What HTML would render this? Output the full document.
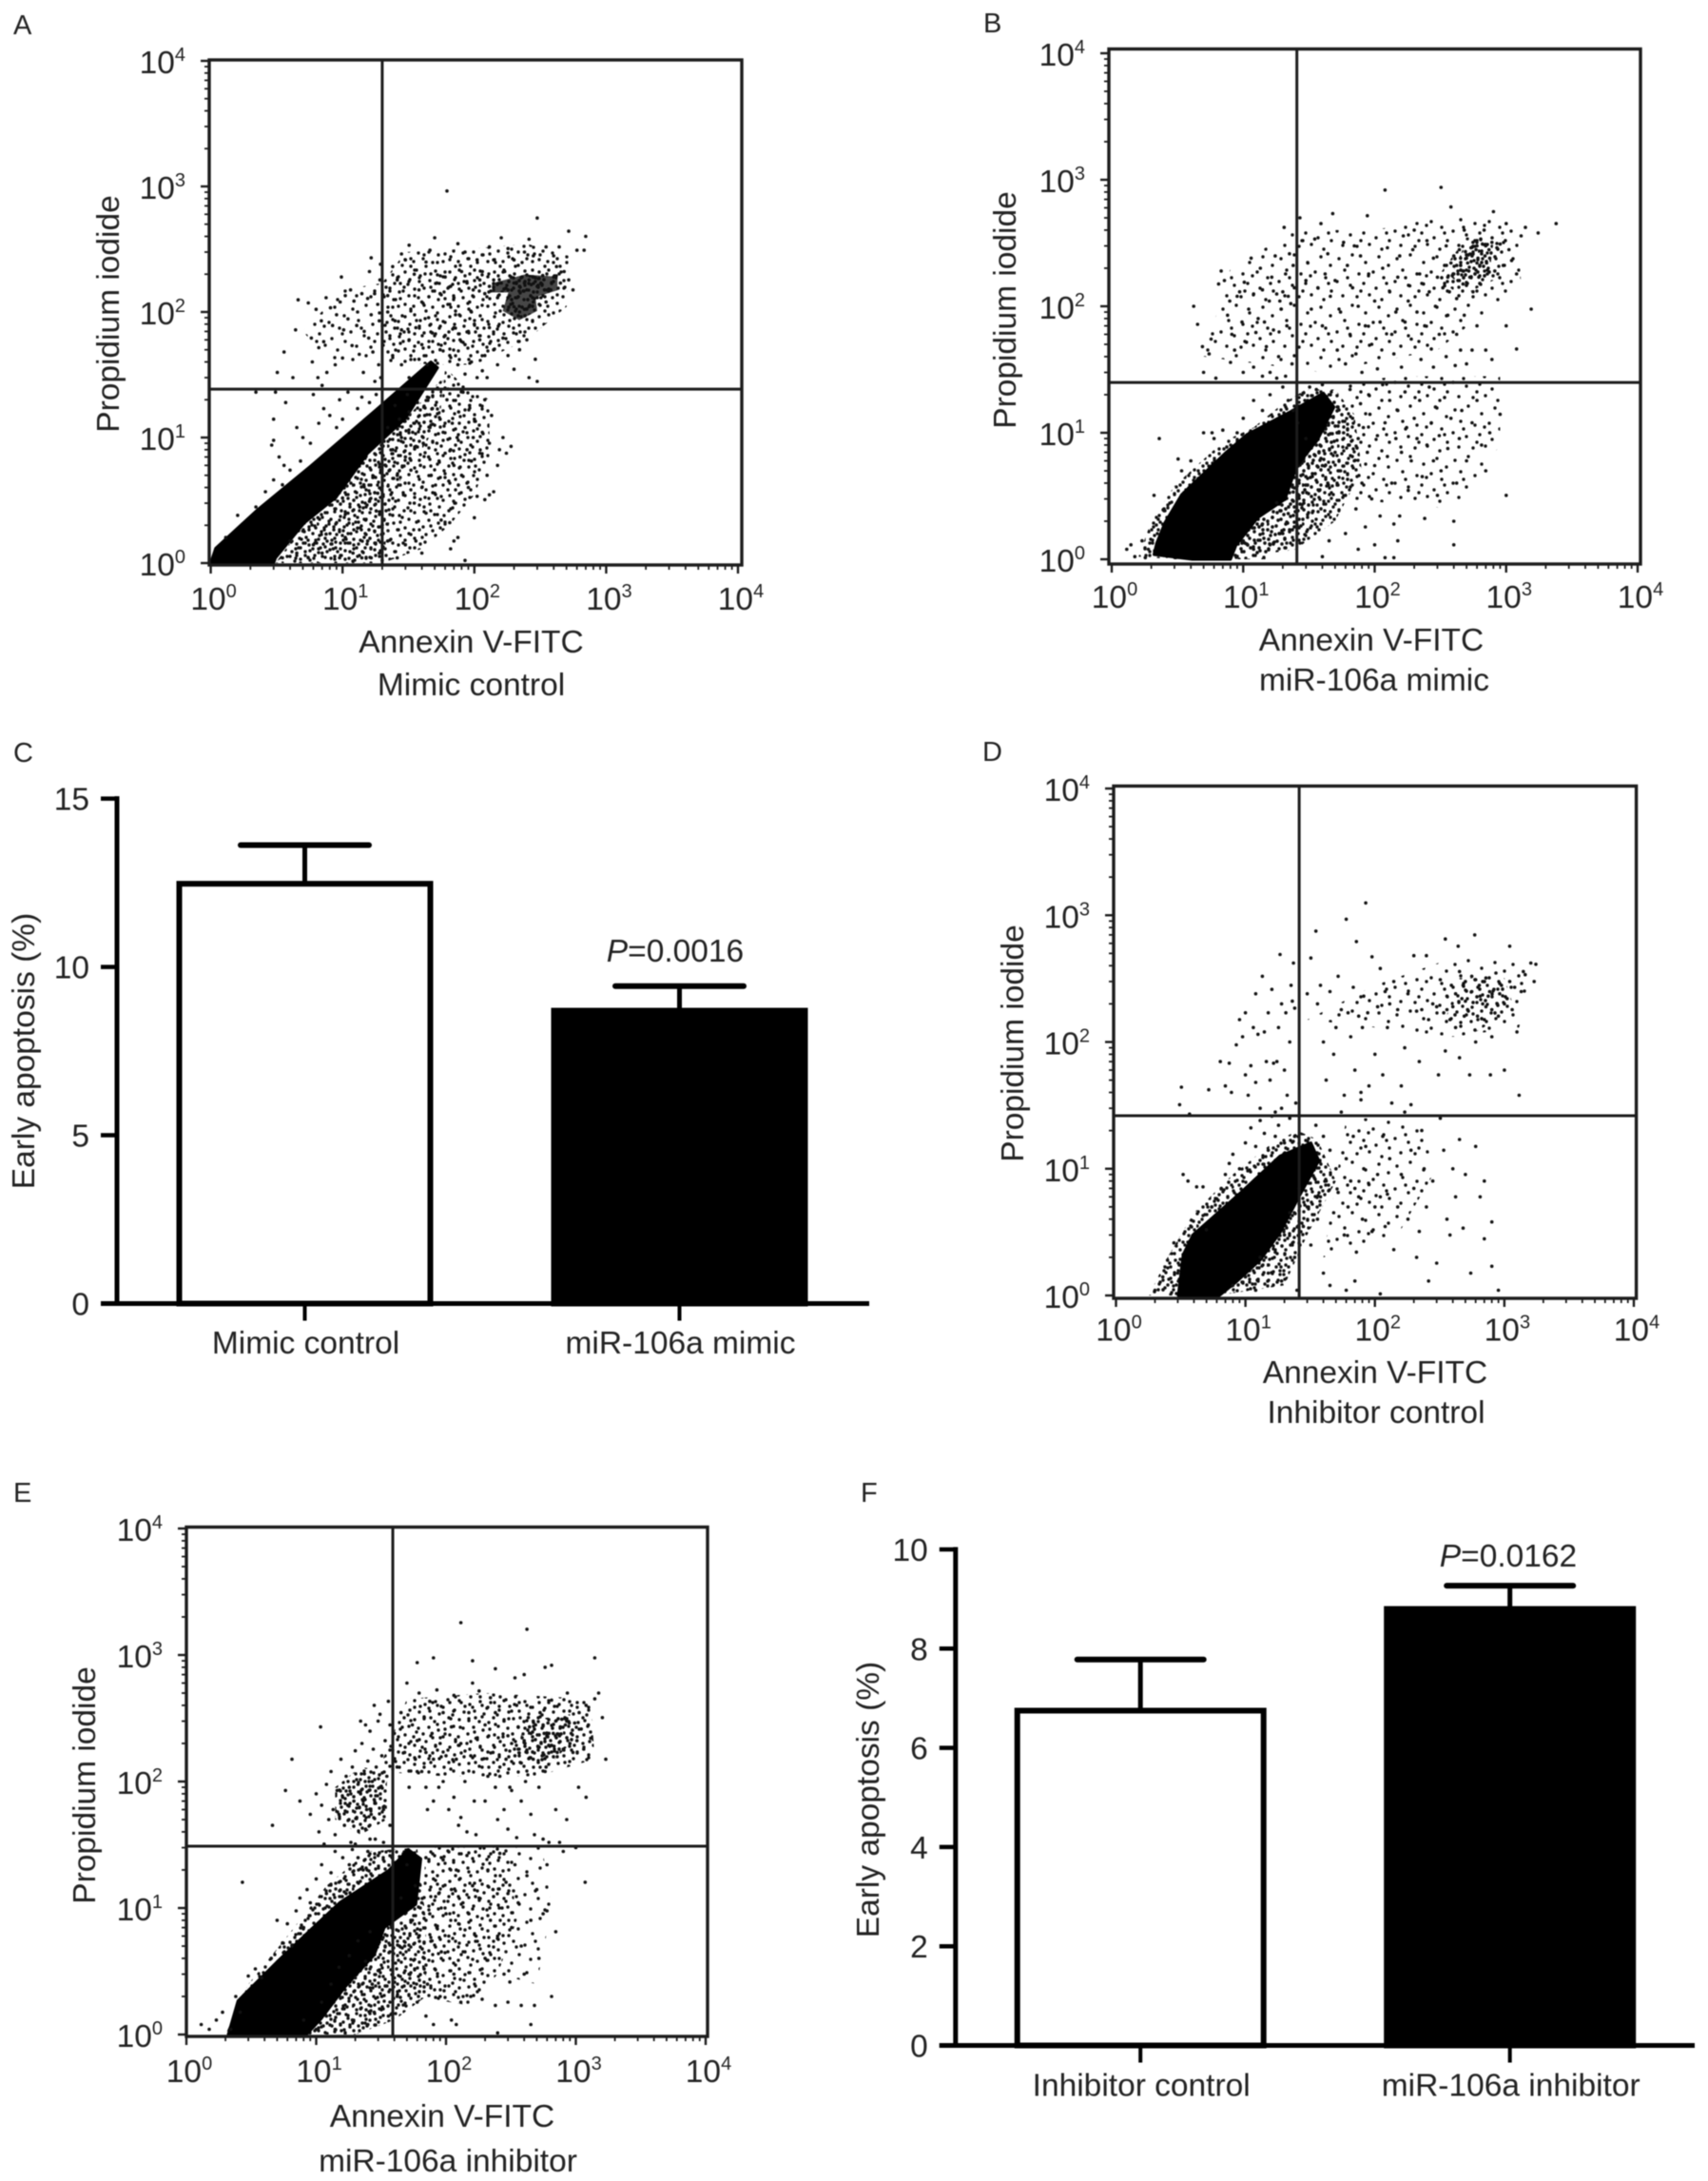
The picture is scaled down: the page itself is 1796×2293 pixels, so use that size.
<!DOCTYPE html>
<html lang="en">
<head>
<meta charset="utf-8">
<title>Annexin V / PI flow cytometry and early apoptosis</title>
<style>
html,body{margin:0;padding:0;background:#fff;}
#figure{display:block;width:1796px;height:2293px;filter:blur(0.6px);}
text{font-family:"Liberation Sans",sans-serif;font-size:33.5px;fill:#222;}
.letter{font-size:29px;}
</style>
</head>
<body>
<svg id="figure" xmlns="http://www.w3.org/2000/svg" width="1796" height="2293" viewBox="0 0 1796 2293">
<defs>
<pattern id="stippleSparse" width="61" height="53" patternUnits="userSpaceOnUse"><path fill="none" stroke="#111" stroke-width="3.4" stroke-linecap="round" d="M5 7h0M19 3h0M33 11h0M47 5h0M57 14h0M11 19h0M26 23h0M41 21h0M52 27h0M3 31h0M17 35h0M31 33h0M44 38h0M58 41h0M9 46h0M24 47h0M37 45h0M50 50h0M14 27h0M36 25h0M28 41h0M55 33h0"/></pattern>
<pattern id="stippleMedium" width="47" height="47" patternUnits="userSpaceOnUse"><path fill="none" stroke="#111" stroke-width="3.4" stroke-linecap="round" d="M3 4h0M13 2h0M24 6h0M35 3h0M43 9h0M8 12h0M18 14h0M29 13h0M39 16h0M2 20h0M13 22h0M23 21h0M34 24h0M44 25h0M7 29h0M17 31h0M28 30h0M38 33h0M3 38h0M12 40h0M22 37h0M32 41h0M43 40h0M25 45h0M9 45h0M37 7h0M19 8h0M45 32h0M30 20h0M6 17h0"/></pattern>
<pattern id="stippleDense" width="37" height="41" patternUnits="userSpaceOnUse"><path fill="none" stroke="#111" stroke-width="3.4" stroke-linecap="round" d="M2 3h0M11 6h0M20 2h0M30 5h0M6 11h0M15 13h0M25 10h0M34 13h0M1 18h0M10 20h0M20 18h0M29 21h0M5 26h0M14 28h0M24 26h0M33 28h0M2 34h0M11 36h0M19 33h0M28 35h0M35 38h0M16 39h0M7 39h0M25 38h0M32 19h0M18 24h0"/></pattern>
</defs>
<rect width="1796" height="2293" fill="#fff"/>

<text class="letter" x="14" y="36">A</text>
<text class="letter" x="1034" y="34">B</text>
<text class="letter" x="14" y="801">C</text>
<text class="letter" x="1033" y="800">D</text>
<text class="letter" x="14" y="1579">E</text>
<text class="letter" x="905" y="1579">F</text>

<g id="panelA"></g>
<g id="panelB"></g>
<g id="panelC"></g>
<g id="panelD"></g>
<g id="panelE"></g>
<g id="panelF"></g>

<text x="125" y="330" text-anchor="middle" transform="rotate(-90 125 330)">Propidium iodide</text>
<text x="495.5" y="686" text-anchor="middle">Annexin V-FITC</text>
<text x="495.5" y="731" text-anchor="middle">Mimic control</text>

<text x="1068" y="326" text-anchor="middle" transform="rotate(-90 1068 326)">Propidium iodide</text>
<text x="1442" y="684" text-anchor="middle">Annexin V-FITC</text>
<text x="1445" y="726" text-anchor="middle">miR-106a mimic</text>

<text x="1076" y="1097" text-anchor="middle" transform="rotate(-90 1076 1097)">Propidium iodide</text>
<text x="1446" y="1454" text-anchor="middle">Annexin V-FITC</text>
<text x="1447" y="1496" text-anchor="middle">Inhibitor control</text>

<text x="100" y="1877" text-anchor="middle" transform="rotate(-90 100 1877)">Propidium iodide</text>
<text x="465" y="2236" text-anchor="middle">Annexin V-FITC</text>
<text x="471" y="2283" text-anchor="middle">miR-106a inhibitor</text>

<text x="36" y="1105" text-anchor="middle" transform="rotate(-90 36 1105)">Early apoptosis (%)</text>
<text x="710" y="1011" text-anchor="middle"><tspan font-style="italic">P</tspan>=0.0016</text>

<text x="924" y="1892" text-anchor="middle" transform="rotate(-90 924 1892)">Early apoptosis (%)</text>
<text x="1586" y="1647" text-anchor="middle"><tspan font-style="italic">P</tspan>=0.0162</text>
</svg>

<script>
// ---------- Axis data shared by the flow plots ----------
const logDecades = [0, 1, 2, 3, 4];
const minorMultipliers = [2, 3, 4, 5, 6, 7, 8, 9];

// ---------- Quadrant gates (Annexin V, PI intensity) ----------
const gateA = [20, 24.3];
const gateB = [25.6, 25];
const gateD = [26, 26.2];
const gateE = [38.9, 30.8];

// ---------- Dense populations, read as outlines (Annexin V, PI intensity) ----------
const coreA = [[1,1],[1.09,1.31],[2.23,2.62],[5.73,5.93],[18.3,16.9],[46.8,40],[52.6,36],[30,14.2],[15.5,7.5],[8.9,3.33],[5.1,2.08],[3.1,1.1],[3,1]];
const clusterA = [[136,169],[241,199],[427,191],[427,149],[291,131],[300,102],[219,86],[164,102],[181,143],[136,143]];
const fringeA = [[3.1,1],[20,1],[24,3],[30,6],[40,8],[55,14],[58,30],[30,14],[15.5,7.5],[8.9,3.3],[5,2]];
const haloLowerA = [[20,1],[40,1.3],[65,2],[100,3.5],[130,7],[130,20],[80,27],[60,36],[55,14],[30,6],[24,3]];
const haloLeftA = [[5,70],[10,150],[20,170],[20,40],[8,40]];
const haloUpperA = [[20,170],[30,300],[100,320],[250,350],[520,280],[500,110],[250,60],[100,38],[55,38],[20,40]];

const coreB = [[2.2,1.34],[2.55,1.96],[3.4,3.24],[7.3,6.9],[10.7,9.7],[23,14.7],[40.7,20.6],[49,16],[37,8.9],[25.3,5.37],[20.8,2.98],[12.9,2.13],[8.8,1.29],[8,1],[4.1,1],[2.1,1.09]];
const clusterB = [[300,170],[500,350],[1000,350],[900,170],[450,120]];
const clusterInnerB = [[380,170],[480,300],[800,320],[750,190],[500,140]];
const fringeB = [[1.6,1.05],[2,2],[3,3.8],[7,8.5],[12,11],[20,17],[30,22],[50,22],[60,12],[40,5],[30,2],[15,1],[3,1]];
const haloLowerB = [[8,1],[25,1.2],[50,2],[80,5],[70,14],[50,22],[30,10],[18,4]];
const haloSparseB = [[60,3],[400,2.5],[900,8],[900,28],[150,28],[60,25]];
const haloUpperB = [[5,40],[8,200],[25,400],[100,400],[300,500],[1200,500],[1300,150],[300,45],[40,30]];

const coreD = [[3.03,1],[3.3,2.09],[3.93,3],[9.3,6.55],[18.5,12.6],[32,16],[36.8,11.6],[26,6.05],[18.5,3.14],[13.1,1.92],[8.5,1.28],[6.3,1]];
const clusterD = [[350,150],[450,320],[1000,320],[1200,180],[600,120]];
const fringeD = [[1.8,1],[2.5,2],[4,4.5],[8,9],[15,15],[25,20],[36,17],[50,8],[30,3],[20,1.2],[6,1]];
const haloSparseD = [[40,2],[150,3],[300,10],[200,25],[60,25]];
const haloUpperD = [[30,150],[100,280],[500,500],[1700,400],[1300,130],[400,110],[100,130]];

const coreE = [[2.1,1],[2.5,1.85],[5,3.76],[9.1,6.75],[15.3,11.1],[36.4,19.9],[51,29],[64,24.5],[58.5,10.7],[33.4,7],[28,4.27],[16.7,2.38],[10.9,1.33],[8.4,1]];
const clusterE = [[350,160],[400,300],[900,340],[1000,220],[600,130]];
const fringeE = [[2,1],[3,2.5],[6,6],[12,15],[25,28],[60,30],[70,8],[70,2],[40,1.3],[20,1]];
const haloLeftE = [[14,50],[14,90],[22,130],[35,120],[35,50],[22,38]];
const haloBandE = [[30,120],[50,450],[200,500],[1300,450],[1400,150],[500,110],[100,110]];
const haloSparseE = [[60,2],[150,1.7],[250,3],[350,8],[300,30],[70,30]];
const haloOuterE = [[250,3],[500,2.5],[650,10],[550,30],[300,30],[350,8]];

// ---------- Individual events (Annexin V, PI intensity) ----------
const pointsA = [[4.6,125],[5.5,118],[6.3,105],[6.9,85],[5.8,62],[4.4,72],[3.6,48],[3.2,33],[7.5,130],[8.1,108],[9,95],[9.6,120],[10.5,135],[11.5,150],[12.2,122],[13,100],[14,140],[15.5,128],[16.5,95],[17.5,140],[18.5,115],[19,85],[9.8,190],[8.4,78],[7.2,58],[6.6,52],[10.2,72],[11,88],[12.8,78],[14.6,70],[15.8,62],[13.4,46],[11.8,54],[10,43],[8.8,38],[7.6,33],[6.5,30],[5.9,40],[17,48],[18.8,38],[19.5,30],[17.6,28],[14.4,33],[16,210],[19.2,180],[16.5,270],[19.4,240],
[22,135],[24,230],[26,180],[28,290],[30,260],[32,340],[35,200],[38,150],[40,120],[43,250],[46,310],[50,390],[52,170],[55,140],[60,190],[63,115],[66,160],[70,130],[72,95],[75,350],[80,210],[85,300],[88,170],[92,120],[95,100],[98,150],[105,260],[110,180],[115,210],[62,920],[22,100],[25,85],[28,72],[32,60],[36,75],[40,55],[45,90],[48,68],[55,50],[60,65],[65,45],[70,75],[78,60],[85,55],[90,70],[100,80],[110,60],[120,45],[130,75],[24,45],[28,38],[32,30],[38,42],[44,38],[75,38],[85,32],[95,40],[105,30],[115,34],[125,30],[140,50],[150,38],[165,62],[180,45],[200,35],[220,50],[250,60],[300,28],[290,42],[260,30],
[120,140],[130,160],[140,180],[150,130],[160,170],[170,210],[180,150],[190,190],[200,170],[210,130],[220,160],[230,190],[240,170],[250,150],[260,180],[270,165],[280,190],[290,175],[300,160],[310,185],[320,170],[330,195],[340,150],[200,110],[220,100],[240,105],[260,110],[280,120],[300,130],[320,130],[350,120],[380,150],[400,190],[420,230],[450,170],[480,210],[520,180],[560,150],[600,310],[700,400],[680,310],[520,440],[300,560],[280,280],[260,380],[240,300],[200,260],[180,320],[160,390],[140,260],[130,330],[350,330],[400,280],[440,330],
[22,12],[24,8],[25,18],[26,5],[27,14],[28,10],[29,3.5],[30,7],[31,22],[32,16],[33,5.5],[34,11],[35,3],[36,8.5],[37,19],[38,13],[39,6],[40,4],[41,9],[42,15],[43,2.5],[44,21],[45,7],[46,12],[47,5],[48,17],[50,3.6],[52,9],[54,6.5],[55,14],[56,2.2],[58,11],[60,7.5],[62,20],[64,4.5],[66,8],[68,13],[70,6],[72,3],[74,10],[76,16],[78,7],[80,5],[82,23],[85,12],[88,8],[90,4],[92,18],[95,6.5],[98,10],[100,14],[105,3.4],[110,7.5],[115,11],[120,20],[125,5],[130,9],[135,15],[140,3.7],[150,6],[155,8],[165,10],[175,7.5],[190,8.5],[130,3.5],[120,3.2],[100,2.3],[75,1.6],[65,2.1],[70,1.5],[66,1.3],[85,1.05],
[3.5,1.1],[4,1.5],[4.5,1.2],[5,1.8],[5.5,1.1],[6,1.4],[6.5,2.3],[7,1.2],[7.5,1.7],[8,2.9],[8.5,1.3],[9,2.1],[9.5,1.1],[10,3.3],[10.5,1.6],[11,2.5],[12,1.2],[12.5,3.7],[13,1.9],[13.5,2.8],[14,1.1],[14.5,4.2],[15,2.2],[15.5,1.5],[16,3.1],[16.5,1.1],[17,4.8],[17.5,1.8],[18,2.6],[18.5,3.6],[19,1.2],[19.5,5.5],[20,2],[20,1.05],[22,1.5],[24,2.4],[26,1.1],[30,1.4],[36,1.5],[40,1.2],
[2.9,8.7],[3,9.5],[3.3,7],[3.6,6],[3,14],[2.2,23],[3.7,19],[4.5,12],[5,10],[5.7,9],[6.6,13],[7.2,17],[8,15],[9,12],[9.5,20],[6,22],[7,26],[4.2,30],[11,23],[13,17],[14,21],[16,19],[18,22],[10,14],[3,4.6],[3.5,4.2],[2.6,3.7],[2.2,2.8],[1.6,2.4],[1.3,1.6],[4,5.5],[4.8,6.5],[3.1,23]];

const pointsB = [[4.2,100],[4.5,72],[4.9,48],[5.5,42],[5.7,55],[6.5,150],[6.8,190],[7.2,160],[7.6,85],[7.9,110],[8.2,60],[8.6,45],[9,120],[9.4,130],[9.8,75],[10.2,155],[10.6,52],[11,95],[11.5,240],[12,125],[12.5,62],[13,80],[13.5,200],[14,135],[14.5,75],[15,48],[15.8,110],[16.5,170],[17,65],[17.5,250],[18,125],[18.6,40],[19,110],[19.5,95],[20,130],[20.5,420],[21,180],[21.5,70],[22,120],[22.5,260],[23,105],[23.5,35],[24,210],[24.5,140],[5,30],[6.2,27],[8,36],[10,30],[12,33],[14,28],[16,30],[18,27],[21,28],
[27,500],[28,330],[30,160],[31,220],[33,95],[35,340],[37,140],[39,450],[40,70],[42,180],[44,260],[46,120],[48,540],[50,160],[52,45],[55,90],[58,320],[60,35],[62,210],[65,60],[68,140],[70,300],[72,42],[75,100],[78,250],[80,30],[85,70],[88,520],[90,180],[95,50],[100,110],[105,32],[110,75],[115,200],[120,830],[125,290],[130,130],[135,60],[140,42],[145,90],[150,170],[155,250],[160,33],[165,360],
[170,75],[180,110],[185,145],[190,55],[195,280],[200,400],[210,90],[220,180],[225,38],[235,150],[240,70],[250,330],[260,130],[270,46],[280,240],[290,100],[300,170],[310,60],[320,870],[330,140],[340,210],[350,300],[360,85],[370,130],[380,610],[390,175],[400,250],[410,34],[420,115],[430,180],[440,280],[450,210],[470,150],[480,400],[500,240],[520,190],[540,290],[560,130],[580,330],[600,220],[620,170],[650,260],[680,400],[700,300],[720,180],[750,240],[780,320],[800,560],[820,190],[850,290],[900,310],[950,210],[1000,450],[1050,280],[1100,230],[1200,180],[1300,360],[1400,420],[1550,95],[1750,380],[2400,450],[1200,46],[1000,70],[700,45],[600,70],[450,45],[550,45],[350,40],[780,38],[500,35],[420,60],[480,85],[280,33],
[400,180],[420,210],[450,240],[470,190],[490,270],[510,220],[530,170],[550,250],[570,200],[590,280],[610,240],[630,210],[660,310],[690,250],[710,220],[740,280],[440,160],[380,220],[360,170],[340,145],[560,320],[600,300],[640,340],
[45,20],[48,12],[50,7],[52,16],[55,5],[58,10],[60,3.2],[63,8],[65,22],[68,13],[70,6],[72,2.5],[75,9],[78,17],[80,4],[82,11],[85,1.8],[88,7],[90,20],[92,14],[95,3],[100,5.5],[105,9.5],[110,2.2],[115,24],[120,12],[125,6.5],[130,18],[135,4],[140,1.9],[145,9],[150,15],[155,2.2],[160,7],[170,21],[175,11],[180,3.5],[190,6],[200,13],[210,9],[220,18],[230,4.5],[240,2.1],[250,8],[260,23],[270,12],[280,6],[290,16],[300,3.2],[310,9.5],[320,5],[340,19],[360,7.5],[380,13],[400,2],[420,4],[440,9],[460,15],[500,6],[550,12],[600,18],[650,8],[700,5],[750,10],[900,14],[1000,3.2],[400,1.3],[150,1.4],[100,1.3],[75,1.2],[60,1.6],[45,1.4],[40,1.05],[120,1.03],[140,1.03],
[10,1.4],[12,1.2],[14,1.9],[16,1.3],[18,2.8],[20,1.6],[22,2.3],[24,3.4],[26,1.8],[28,2.7],[30,4.5],[32,6.5],[34,2.4],[36,8],[38,3.5],[40,5.5],[42,10],[44,4],[30,9],[26,12],[24,15],[22,18],[28,20],[32,23],[36,22],[40,24],[20,23],[16,20],[14,15],[12,18],[10,13],[9,10],[7,10.5],[6,9],[5,10],[5.8,10],[4,6],[3.4,5],[2.3,9],[2.1,3.2],[2.5,2.5],[3.2,6.2],[1.4,1.3],[1.3,1.2],[1.7,1.4],[1.9,1.2],[1.5,1.05],[1.8,1.03]];

const pointsD = [[3.2,44],[3.1,32],[3.7,27],[5.2,42],[6.4,70],[7,45],[7.5,68],[7.8,40],[8.5,95],[9.5,110],[10,55],[10.5,38],[11,65],[11.5,130],[12,48],[12.5,115],[13,30],[13.5,330],[14,120],[14.5,70],[15,170],[15.5,50],[16,260],[16.5,68],[17.5,70],[18,130],[18.5,490],[19,200],[20,60],[20.5,170],[21,38],[22,100],[22.5,280],[23,210],[23.5,420],[24,185],[24.5,33],[19,30],[17,28],[10,170],[12,240],[9,150],
[30,240],[32,460],[35,750],[36,200],[38,280],[40,100],[42,50],[45,250],[48,80],[50,130],[52,330],[55,180],[58,38],[60,930],[62,170],[65,110],[68,270],[70,60],[72,620],[75,160],[78,40],[80,130],[82,230],[85,1250],[88,170],[90,45],[95,470],[100,80],[105,190],[110,380],[115,55],[120,250],[125,130],[130,200],[135,33],[140,300],[150,180],[160,45],[170,90],[180,240],[190,32],[200,480],[210,175],[220,70],[230,180],
[250,480],[260,150],[280,200],[300,190],[310,55],[320,310],[340,170],[350,650],[360,230],[380,150],[390,280],[400,190],[420,130],[440,570],[450,360],[470,220],[490,160],[500,300],[520,180],[540,55],[560,250],[590,700],[620,160],[640,280],[680,200],[700,150],[720,320],[750,230],[780,55],[800,180],[830,260],[860,350],[880,200],[900,160],[950,280],[1000,60],[1050,220],[1100,570],[1150,180],[1200,270],[1250,120],[1300,38],[1350,250],[1400,360],[1450,340],[1600,420],[1700,300],[1750,410],[1000,200],[800,110],[600,100],[450,75],[350,85],[600,310],[650,230],[720,190],[480,280],[560,330],[420,240],[360,180],[500,210],[770,250],[920,240],[680,300],[1100,300],
[35,22],[40,18],[42,8],[45,14],[48,4.5],[50,10],[52,6.5],[55,28],[58,3],[60,12],[62,5],[65,8],[68,18],[70,7],[72,2.2],[75,6],[78,35],[80,4],[82,10],[85,15],[90,7.5],[95,3.2],[100,5],[105,9],[110,6],[115,18],[120,3.5],[125,6.3],[130,12],[140,2.3],[150,5],[160,9],[170,28],[180,4],[190,14],[200,7],[210,2],[220,3.2],[230,20],[240,10],[250,5],[260,1.3],[280,8],[300,1.8],[320,25],[340,14],[360,4],[380,3],[400,10],[420,6],[450,17],[480,3.4],[500,9],[550,1.5],[600,15],[650,6],[700,2.8],[800,3.8],[900,1.1],[800,1.7],[700,8],
[2,1.1],[2.3,1.4],[2.5,1.9],[2.8,2.6],[3,1.5],[3.3,9],[3.6,8],[4.2,7.2],[4.7,7.2],[5,3.3],[5.5,5],[6,5.8],[6.5,7],[7,9],[7.5,11],[8,13],[9,10],[10,16],[11,21],[12,15],[13,24],[14,19],[15,14],[16,26],[17,18],[18,22],[20,16],[22,25],[24,18],[8,1.2],[10,1.4],[12,1.1],[13,2],[15,1.5],[17,2.2],[19,1.3],[20,3],[22,4.5],[24,2],[25,1.1],[26,7],[28,3.5],[30,5],[32,2.5],[34,8.5],[36,4],[38,6],[40,1.5],[45,1.2],[60,1.1],[70,1.3],[110,1.03]];

const pointsE = [[2.7,16],[6.5,150],[5.8,85],[7.5,70],[4.6,45],[10.8,270],[130,1800],[420,1600],[80,950],[60,870],[160,900],[240,780],[650,830],[580,800],[1400,950],[340,660],[400,700],[1700,150],[1200,75],[1050,90],[580,120],[700,60],[850,50],[1000,30],[1180,16],[600,9.5],
[9,55],[10,80],[10.5,40],[11,65],[11.5,32],[12,95],[12.5,50],[13,120],[13.5,60],[14,38],[14.5,85],[15,55],[15.5,150],[16,75],[16.5,45],[17,110],[17.5,65],[18,90],[18.5,33],[19,130],[19.5,70],[20,175],[20.5,52],[21,95],[21.5,62],[22,80],[22.5,200],[23,70],[23.5,115],[24,42],[24.5,60],[25,145],[25.5,85],[26,250],[26.5,55],[27,100],[27.5,180],[28,72],[28.5,35],[29,130],[30,300],[31,90],[32,160],[33,60],[34,210],[35,110],[36,430],[37,280],[28,400],[24,280],[31,340],[22,300],[20,32],[26,35],[33,33],[37,45],
[40,240],[42,130],[45,350],[48,170],[50,600],[52,90],[55,280],[58,150],[60,210],[62,500],[65,120],[68,320],[70,170],[72,60],[75,430],[78,240],[80,150],[85,530],[88,90],[90,200],[95,350],[100,160],[105,60],[110,270],[115,480],[120,150],[125,45],[130,200],[140,100],[150,350],[155,160],[160,600],[165,70],[170,220],[180,520],[190,150],[200,280],[210,110],[220,460],[230,170],[240,350],[250,50],[260,130],[280,300],[290,150],[300,230],[310,90],[320,200],[340,160],[350,400],[360,270],[380,140],[400,210],[420,170],[430,320],[450,240],[470,150],[490,280],[510,190],[530,350],[550,160],[570,240],[590,130],[610,290],[630,190],[650,440],[670,240],[700,300],[720,170],[750,230],[780,310],[800,180],[830,280],[860,500],[890,290],[920,240],[950,170],[980,290],[1020,210],[1060,350],[1100,260],[1150,180],[1200,400],[1250,280],[1300,220],[1400,450],[1500,500],[1600,320],[470,300],[560,280],[620,240],[680,190],[760,270],[850,300],[900,200],[540,200],[440,270],[360,180],[60,120],[70,90],[80,70],[95,100],[115,75],[130,52],[145,40],[170,38],[200,70],[240,90],[260,110],[280,60],[300,42],[320,85],[350,36],[380,70],[410,100],[450,55],[480,38],[520,90],[560,35],[620,33],[750,33],
[42,2],[45,12],[48,5],[50,22],[52,3],[55,8],[58,15],[60,1.8],[62,6],[65,11],[68,4],[70,25],[72,2.5],[75,9],[78,5.5],[80,17],[82,3.3],[85,7],[88,13],[90,2],[92,4.5],[95,24],[100,9],[105,6],[110,14],[115,3],[120,20],[125,7.5],[130,1.8],[135,11],[140,4.5],[145,26],[150,9],[155,2],[160,15],[170,6],[180,12],[190,1.9],[200,4],[210,20],[220,8],[230,14],[240,1.7],[250,6],[260,27],[270,10],[280,3],[290,16],[300,13],[310,2.6],[320,7],[340,22],[360,11],[380,5],[400,3],[420,18],[450,8],[480,1.7],[500,14],[520,4],[560,9],[600,22],[650,2],[700,6.5],[800,28],[450,1.2],[300,1.8],[380,1.7],[250,1.03],[120,1.2],[110,1.3],[80,1.2],[70,1.4],
[1.3,1.2],[1.5,1.1],[1.7,1.3],[1.9,1.5],[2.2,1.1],[2.4,2],[2.6,1.5],[3,2.9],[3.4,3.3],[3.8,2.8],[4.5,4],[5,8],[5.5,5.3],[6,7.5],[6.5,5],[7,9.5],[7.5,12],[8,7],[8.5,14],[9,11],[10,17],[11,22],[12,13],[13,19],[14,28],[15,16],[16,25],[17,13],[18,22],[19,29],[21,25],[23,20],[25,28],[27,18],[30,26],[8,1.3],[10,1.1],[11,1.8],[12,1.4],[13,2.5],[14,1.1],[15,3.4],[16,1.6],[17,2.1],[18,4.2],[19,1.3],[20,2.8],[21,5.5],[22,1.6],[24,3.8],[25,1.2],[26,6.5],[27,2.5],[28,1.5],[30,3.2],[32,2],[34,5],[36,1.4],[38,7],[40,2.8]];

// ---------- Bar chart data ----------
const categoriesC = ["Mimic control", "miR-106a mimic"];
const valuesC = [12.47, 8.7];
const errorsC = [1.15, 0.73];
const ticksC = [0, 5, 10, 15];

const categoriesF = ["Inhibitor control", "miR-106a inhibitor"];
const valuesF = [6.75, 8.8];
const errorsF = [1.03, 0.47];
const ticksF = [0, 2, 4, 6, 8, 10];

// ---------- Drawing ----------
const NS = "http://www.w3.org/2000/svg";
const INK = "#1c1c1c";
const stippleLayers = {
  sparse: ["stippleSparse"],
  medium: ["stippleSparse", "stippleMedium"],
  dense: ["stippleSparse", "stippleMedium", "stippleDense"]
};

function make(parent, tag, attrs) {
  const el = document.createElementNS(NS, tag);
  for (const k in attrs) el.setAttribute(k, attrs[k]);
  parent.appendChild(el);
  return el;
}

function drawFlow(id, layout, gate, regions, core, points) {
  const root = document.getElementById(id);
  const xDec = (layout.x4 - layout.x0) / 4;
  const yDec = (layout.y0 - layout.y4) / 4;
  const xScale = function (v) { return layout.x0 + Math.log10(v) * xDec; };
  const yScale = function (v) { return layout.y0 - Math.log10(v) * yDec; };
  const outline = function (poly) {
    return poly.map(function (p) { return xScale(p[0]).toFixed(1) + "," + yScale(p[1]).toFixed(1); }).join(" ");
  };

  const densityGroup = make(root, "g", {});
  
  
  regions.forEach(function (r) {
    if (r[1] === "heavy") {
      const solid = make(densityGroup, "polygon", { points: outline(r[0]), fill: "#000", "fill-opacity": 0.72 });
      
      
    }
    (stippleLayers[r[1]] || stippleLayers.dense).forEach(function (tile) {
      const region = make(densityGroup, "polygon", { points: outline(r[0]), fill: "url(#" + tile + ")" });
      
      
    });
  });

  const corePoly = make(root, "polygon", { points: outline(core), fill: "#000", stroke: "#000", "stroke-width": 3, "stroke-linejoin": "round" });
  
  

  const dots = make(root, "g", { fill: "#111" });
  
  
  points.forEach(function (p) {
    const dot = make(dots, "circle", { cx: xScale(p[0]).toFixed(1), cy: yScale(p[1]).toFixed(1), r: 1.8 });
    
    
  });

  const frame = make(root, "rect", { x: layout.left, y: layout.top, width: layout.right - layout.left, height: layout.bottom - layout.top, fill: "none", stroke: INK, "stroke-width": 3.4 });
  
  

  const gateV = make(root, "line", { x1: xScale(gate[0]), x2: xScale(gate[0]), y1: layout.top, y2: layout.bottom, stroke: INK, "stroke-width": 3 });
  
  
  const gateH = make(root, "line", { x1: layout.left, x2: layout.right, y1: yScale(gate[1]), y2: yScale(gate[1]), stroke: INK, "stroke-width": 3 });
  
  

  logDecades.forEach(function (d, i) {
    const v = Math.pow(10, d);
    const tickX = make(root, "line", { x1: xScale(v), x2: xScale(v), y1: layout.bottom, y2: layout.bottom + 9, stroke: INK, "stroke-width": 2.4 });
    
    
    const tickY = make(root, "line", { x1: layout.left - 9, x2: layout.left, y1: yScale(v), y2: yScale(v), stroke: INK, "stroke-width": 2.4 });
    
    

    const labelX = make(root, "text", { x: xScale(v) + 3, y: layout.xLabelY, "text-anchor": "middle" });
    
    
    labelX.appendChild(document.createTextNode("10"));
    const supX = make(labelX, "tspan", { dy: -13, style: "font-size:20px" });
    supX.textContent = String(d);

    const labelY = make(root, "text", { x: layout.left - 25, y: yScale(v) + 13, "text-anchor": "end" });
    
    
    labelY.appendChild(document.createTextNode("10"));
    const supY = make(labelY, "tspan", { dy: -13, style: "font-size:20px" });
    supY.textContent = String(d);

    if (i < logDecades.length - 1) {
      minorMultipliers.forEach(function (m) {
        const mv = m * v;
        const minorX = make(root, "line", { x1: xScale(mv), x2: xScale(mv), y1: layout.bottom, y2: layout.bottom + 5, stroke: INK, "stroke-width": 1.8 });
        
        
        const minorY = make(root, "line", { x1: layout.left - 5, x2: layout.left, y1: yScale(mv), y2: yScale(mv), stroke: INK, "stroke-width": 1.8 });
        
        
      });
    }
  });
}

function drawBars(id, layout, categories, values, errors, ticks) {
  const root = document.getElementById(id);
  const yScale = function (v) { return layout.y0 - (v / layout.yMax) * (layout.y0 - layout.yTop); };
  const xCenter = function (i) { return layout.c0 + i * layout.step; };
  const stroke = "#000";

  values.forEach(function (v, i) {
    const cx = xCenter(i);
    const stem = make(root, "line", { x1: cx, x2: cx, y1: yScale(v), y2: yScale(v + errors[i]), stroke: stroke, "stroke-width": 5 });
    
    
    const cap = make(root, "line", { x1: cx - layout.cap / 2, x2: cx + layout.cap / 2, y1: yScale(v + errors[i]), y2: yScale(v + errors[i]), stroke: stroke, "stroke-width": 6, "stroke-linecap": "round" });
    
    
    const bar = make(root, "rect", { x: cx - layout.barW / 2, y: yScale(v), width: layout.barW, height: yScale(0) - yScale(v), fill: i === 0 ? "#fff" : "#000", stroke: stroke, "stroke-width": 6 });
    
    
    const tick = make(root, "line", { x1: cx, x2: cx, y1: layout.y0, y2: layout.y0 + 18, stroke: stroke, "stroke-width": 4 });
    
    
    const label = make(root, "text", { x: cx + 1, y: layout.catY, "text-anchor": "middle" });
    
    
    label.textContent = categories[i];
  });

  const yAxis = make(root, "line", { x1: layout.axisX, x2: layout.axisX, y1: layout.yTop - 2.5, y2: layout.y0 + 2.5, stroke: stroke, "stroke-width": 5 });
  
  
  const xAxis = make(root, "line", { x1: layout.axisX - 17, x2: layout.xEnd, y1: layout.y0, y2: layout.y0, stroke: stroke, "stroke-width": 5 });
  
  

  ticks.forEach(function (t) {
    const tick = make(root, "line", { x1: layout.axisX - 17, x2: layout.axisX, y1: yScale(t), y2: yScale(t), stroke: stroke, "stroke-width": 4.5 });
    
    
    const label = make(root, "text", { x: layout.axisX - 29, y: yScale(t) + 12, "text-anchor": "end" });
    
    
    label.textContent = String(t);
  });
}

drawFlow("panelA", { left: 220, right: 780, top: 63, bottom: 594, x0: 221.6, x4: 776, y0: 592, y4: 64, xLabelY: 641 }, gateA,
  [[haloLeftA, "sparse"], [haloUpperA, "medium"], [haloLowerA, "medium"], [fringeA, "dense"], [clusterA, "heavy"]], coreA, pointsA);
drawFlow("panelB", { left: 1166, right: 1725, top: 51.5, bottom: 593, x0: 1169, x4: 1722, y0: 588, y4: 56, xLabelY: 639 }, gateB,
  [[haloUpperB, "sparse"], [haloSparseB, "sparse"], [clusterB, "medium"], [clusterInnerB, "dense"], [haloLowerB, "dense"], [fringeB, "dense"]], coreB, pointsB);
drawFlow("panelD", { left: 1171, right: 1720.6, top: 826.4, bottom: 1365, x0: 1173.5, x4: 1718, y0: 1362, y4: 829, xLabelY: 1409.5 }, gateD,
  [[haloUpperD, "sparse"], [haloSparseD, "sparse"], [clusterD, "medium"], [fringeD, "dense"]], coreD, pointsD);
drawFlow("panelE", { left: 196, right: 744, top: 1605.5, bottom: 2141, x0: 196, x4: 742, y0: 2139, y4: 1607, xLabelY: 2189 }, gateE,
  [[haloBandE, "medium"], [haloSparseE, "medium"], [haloOuterE, "sparse"], [haloLeftE, "dense"], [clusterE, "dense"], [fringeE, "dense"]], coreE, pointsE);

drawBars("panelC", { axisX: 123, xEnd: 914, y0: 1370.5, yTop: 839.6, yMax: 15, c0: 320.5, step: 394, barW: 264, cap: 135, catY: 1423 }, categoriesC, valuesC, errorsC, ticksC);
drawBars("panelF", { axisX: 1004.8, xEnd: 1782, y0: 2150.5, yTop: 1629, yMax: 10, c0: 1199.2, step: 388.5, barW: 259, cap: 133, catY: 2203.5 }, categoriesF, valuesF, errorsF, ticksF);
</script>
</body>
</html>
